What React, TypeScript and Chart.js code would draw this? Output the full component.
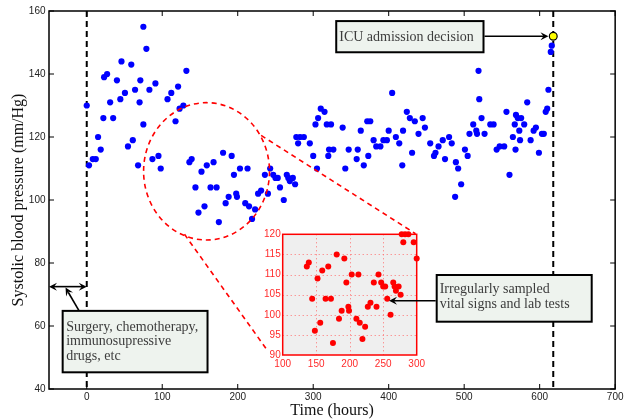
import React, { useEffect, useRef } from "react";
import { Chart, registerables } from "chart.js";
Chart.register(...registerables);

// ---- data (time in hours, systolic blood pressure in mm/Hg) ----
const times: number[] = [
  0, 3, 8, 12, 15, 18.5, 22, 23, 27, 31, 35, 40, 44.5, 46, 50.6, 54.6, 59, 61, 64, 68, 70, 71, 75, 75, 79, 83, 87, 91, 95, 98,
  107, 112, 117.6, 121, 123, 128,
  132, 136, 139, 144, 148, 152, 156, 159, 164, 168, 172, 175, 180.6, 184, 188, 192, 195, 198, 199, 203, 210, 213, 215, 219,
  223, 227, 231, 236, 240, 243, 247, 250, 253, 256, 261, 265, 267, 269, 273, 276, 277.6, 280, 282.6, 287.6, 295.5, 300,
  303, 305, 306.5, 310, 315, 318, 320, 321, 323.6, 326.7, 339, 342.5, 347, 357.6, 359, 363, 367, 371.6, 373, 375.6, 380,
  383.5, 389, 393, 397.6, 400, 404.6, 409.5, 414, 418, 419, 424, 428, 431, 434.6, 439.5, 445, 448, 455, 460, 462, 466,
  471.6, 474.6, 480, 483.5, 488, 489, 492, 496, 501, 504.6, 507, 512, 516, 517, 519, 520, 523, 527, 534.6, 539, 543, 547,
  553, 556, 560, 564.5, 567, 568, 568.6, 571, 573, 574, 575.5, 579.5, 583.5, 588, 592, 595, 599, 603, 605.5, 608, 610,
  611.6, 614.7, 616,
];
const sbp: number[] = [
  130, 111, 113, 113, 120, 116, 126, 139, 140, 131, 126, 138, 132, 144, 134, 117, 143, 119, 135, 111, 131, 138, 155, 124, 148, 135, 113, 137, 114, 110,
  132, 134, 125, 136, 129, 130,
  141, 112, 113, 104, 96, 109, 98, 111, 104, 112, 104, 93, 115, 99, 101, 114, 108, 102, 101, 110, 99, 110, 98, 94,
  97, 102, 103, 108, 102, 110, 108, 107, 107, 104, 100, 108, 107, 106, 107, 105, 120, 118, 120, 120, 118, 114,
  124, 110, 126, 129, 128, 124, 114, 116, 124, 116, 123, 110, 116, 113, 116, 122, 111, 125, 114, 125, 119,
  117, 117, 119, 119, 122, 134, 120, 118, 111, 122, 128, 126, 115, 125, 121, 126, 123, 118, 114, 115, 117,
  119, 113, 120, 118, 101, 112, 110, 105, 116, 114, 121, 124, 122, 121, 141, 132, 126, 121, 124, 124, 116, 117,
  117, 128, 108, 120, 124, 116, 127, 126, 122, 119, 126, 124, 131, 119, 122, 123, 115, 121, 121, 128, 129,
  135, 147, 149,
];
const icuTime = 618;
const icuSbp = 152;
const surgeryTime = 0;

const xTicks: number[] = [0, 100, 200, 300, 400, 500, 600, 700];
const yTicks: number[] = [40, 60, 80, 100, 120, 140, 160];
const insetXTicks: number[] = [100, 150, 200, 250, 300];
const insetYTicks: number[] = [90, 95, 100, 105, 110, 115, 120];

const SERIF = '"Liberation Serif", "DejaVu Serif", serif';
const SANS = '"Liberation Sans", Arial, sans-serif';

function arrowHead(ctx: CanvasRenderingContext2D, fx: number, fy: number, tx: number, ty: number, len = 8, half = 4) {
  const ang = Math.atan2(ty - fy, tx - fx);
  const c = Math.cos(ang), s = Math.sin(ang);
  const bx = tx - c * len, by = ty - s * len;
  const nx = tx - c * len * 0.62, ny = ty - s * len * 0.62;
  ctx.beginPath();
  ctx.moveTo(tx, ty);
  ctx.lineTo(bx - s * half, by + c * half);
  ctx.lineTo(nx, ny);
  ctx.lineTo(bx + s * half, by - c * half);
  ctx.closePath();
  ctx.fill();
}

function line(ctx: CanvasRenderingContext2D, x1: number, y1: number, x2: number, y2: number) {
  ctx.beginPath();
  ctx.moveTo(x1, y1);
  ctx.lineTo(x2, y2);
  ctx.stroke();
}

function textBox(ctx: CanvasRenderingContext2D, l: number, t: number, r: number, b: number, lines: string[], tx: number, firstBase: number, gap: number) {
  ctx.save();
  ctx.setLineDash([]);
  ctx.fillStyle = "#eef3ee";
  ctx.fillRect(l, t, r - l, b - t);
  ctx.strokeStyle = "#000";
  ctx.lineWidth = 2;
  ctx.strokeRect(l, t, r - l, b - t);
  ctx.fillStyle = "#3c3c3c";
  ctx.font = `14px ${SERIF}`;
  ctx.textBaseline = "alphabetic";
  ctx.textAlign = "left";
  lines.forEach((s, i) => ctx.fillText(s, tx, firstBase + i * gap));
  ctx.restore();
}

const mainDecor = {
  id: "mainDecor",
  beforeDatasetsDraw(chart: any) {
    const { ctx, chartArea: a, scales } = chart;
    const X = (v: number) => scales.x.getPixelForValue(v);
    ctx.save();
    ctx.strokeStyle = "#000";
    ctx.lineWidth = 2;
    ctx.setLineDash([6, 4]);
    for (const t of [surgeryTime, icuTime]) line(ctx, X(t), a.top, X(t), a.bottom);
    ctx.restore();
  },
  afterDatasetsDraw(chart: any) {
    const { ctx, chartArea: a, scales } = chart;
    const X = (v: number) => scales.x.getPixelForValue(v);
    const Y = (v: number) => scales.y.getPixelForValue(v);
    ctx.save();
    // axes box and inward ticks
    ctx.strokeStyle = "#000";
    ctx.lineWidth = 1.5;
    ctx.strokeRect(a.left, a.top, a.right - a.left, a.bottom - a.top);
    ctx.lineWidth = 1;
    for (const v of xTicks) {
      const p = X(v);
      line(ctx, p, a.bottom, p, a.bottom - 5);
      line(ctx, p, a.top, p, a.top + 5);
    }
    for (const v of yTicks) {
      const p = Y(v);
      line(ctx, a.left, p, a.left + 5, p);
      line(ctx, a.right, p, a.right - 5, p);
    }
    // red dashed zoom ellipse and connectors
    ctx.strokeStyle = "#ff0000";
    ctx.lineWidth = 1.6;
    ctx.setLineDash([5, 4]);
    const cx = X(158.7), cy = Y(109.1);
    const rx = X(158.7 + 83.4) - cx, ry = cy - Y(109.1 + 21.8);
    ctx.beginPath();
    ctx.ellipse(cx, cy, rx, ry, 0, 0, Math.PI * 2);
    ctx.stroke();
    line(ctx, X(231), Y(120.5), X(435.5), Y(89.3));
    line(ctx, X(129.5), Y(89.1), X(240), Y(52));
    ctx.setLineDash([]);

    // ICU annotation
    textBox(ctx, X(330.5), Y(156.8), X(525.6), Y(146.9), ["ICU admission decision"], X(330.5) + 3, Y(156.8) + 19.5, 0);
    ctx.strokeStyle = "#000";
    ctx.fillStyle = "#000";
    ctx.lineWidth = 1.6;
    const ax1 = X(525.6), ay = Y(icuSbp), ax2 = X(icuTime) - 4.8;
    line(ctx, ax1 + 1, ay, ax2 - 4, ay);
    arrowHead(ctx, ax1, ay, ax2, ay);

    // Surgery annotation
    const dy = Y(72.5);
    line(ctx, X(-50) + 4, dy, X(0) - 4, dy);
    arrowHead(ctx, X(0), dy, X(-50), dy);
    arrowHead(ctx, X(-50), dy, X(0), dy);
    const sx1 = X(-10.1), sy1 = Y(64.8), sx2 = X(-28.1), sy2 = Y(72.2);
    line(ctx, sx1, sy1, sx2 + (sx1 - sx2) * 0.2, sy2 + (sy1 - sy2) * 0.2);
    arrowHead(ctx, sx1, sy1, sx2, sy2);
    textBox(ctx, X(-31.9), Y(64.8), X(160), Y(45.3), ["Surgery, chemotherapy,", "immunosupressive", "drugs, etc"], X(-31.9) + 3.5, Y(64.8) + 19.8, 14.5);
    ctx.restore();
  },
};

const insetDecor = {
  id: "insetDecor",
  beforeDatasetsDraw(chart: any) {
    const { ctx, chartArea: a, scales } = chart;
    ctx.save();
    ctx.fillStyle = "#efefef";
    ctx.fillRect(a.left, a.top, a.right - a.left, a.bottom - a.top);
    ctx.strokeStyle = "#ff7070";
    ctx.lineWidth = 1;
    ctx.setLineDash([1, 3]);
    for (const v of insetXTicks.slice(1, -1)) {
      const p = Math.round(scales.x.getPixelForValue(v)) + 0.5;
      line(ctx, p, a.top, p, a.bottom);
    }
    for (const v of insetYTicks.slice(1, -1)) {
      const p = Math.round(scales.y.getPixelForValue(v)) + 0.5;
      line(ctx, a.left, p, a.right, p);
    }
    ctx.restore();
  },
  afterDatasetsDraw(chart: any) {
    const { ctx, chartArea: a, scales } = chart;
    ctx.save();
    ctx.strokeStyle = "#ff0000";
    ctx.lineWidth = 1.5;
    ctx.strokeRect(a.left, a.top, a.right - a.left, a.bottom - a.top);
    // "Irregularly sampled" annotation
    const bl = a.right + 20, bt = a.top + 40.7, br = bl + 155, bb = bt + 46.7;
    textBox(ctx, bl, bt, br, bb, ["Irregularly sampled", "vital signs and lab tests"], bl + 3, bt + 18, 14.6);
    const ty = scales.y.getPixelForValue(103.5);
    const tx = scales.x.getPixelForValue(258.7);
    ctx.strokeStyle = "#000";
    ctx.fillStyle = "#000";
    ctx.lineWidth = 1.6;
    line(ctx, bl - 1, ty, tx + 4, ty);
    arrowHead(ctx, bl, ty, tx, ty);
    ctx.restore();
  },
};

export default function App() {
  const mainRef = useRef<HTMLCanvasElement>(null);
  const insetRef = useRef<HTMLCanvasElement>(null);

  useEffect(() => {
    const pts = times.map((t, i) => ({ x: t, y: sbp[i] }));
    const insetPts = pts.filter((p) => p.x >= 100 && p.x <= 300 && p.y >= 90 && p.y <= 120);

    const main = new Chart(mainRef.current!, {
      type: "scatter",
      data: {
        datasets: [
          { data: pts, backgroundColor: "#0000ff", borderColor: "#0000ff", borderWidth: 0, pointRadius: 3.1 },
          { data: [{ x: icuTime, y: icuSbp }], backgroundColor: "#ffff00", borderColor: "#000", borderWidth: 1.2, pointRadius: 3.9 },
        ],
      },
      options: {
        responsive: false,
        animation: false,
        devicePixelRatio: 1,
        layout: { padding: { top: 11, right: 8, left: 0, bottom: 0 } },
        plugins: { legend: { display: false }, tooltip: { enabled: false } },
        scales: {
          x: {
            type: "linear",
            min: -50,
            max: 700,
            afterBuildTicks: (ax: any) => { ax.ticks = xTicks.map((v) => ({ value: v })); },
            afterFit: (ax: any) => { ax.height = 31; },
            grid: { display: false, drawTicks: false, tickLength: 0 },
            border: { display: false },
            ticks: { font: { family: SANS, size: 10 }, color: "#222", padding: 2.5, maxRotation: 0, autoSkip: false },
            title: { display: true, text: "Time (hours)", font: { family: SERIF, size: 16 }, color: "#111", padding: { top: 0, bottom: 0 } },
          },
          y: {
            type: "linear",
            min: 40,
            max: 160,
            afterBuildTicks: (ax: any) => { ax.ticks = yTicks.map((v) => ({ value: v })); },
            afterFit: (ax: any) => { ax.width = 49; },
            grid: { display: false, drawTicks: false, tickLength: 0 },
            border: { display: false },
            ticks: { font: { family: SANS, size: 10 }, color: "#222", padding: 3.5, autoSkip: false },
            title: { display: true, text: "Systolic blood pressure (mm/Hg)", font: { family: SERIF, size: 16 }, color: "#111", padding: { top: 9.5, bottom: 0 } },
          },
        },
      },
      plugins: [mainDecor],
    } as any);

    const inset = new Chart(insetRef.current!, {
      type: "scatter",
      data: {
        datasets: [
          { data: insetPts, backgroundColor: "#ff0000", borderColor: "#ff0000", borderWidth: 0, pointRadius: 3, clip: false },
        ],
      },
      options: {
        responsive: false,
        animation: false,
        devicePixelRatio: 1,
        layout: { padding: { top: 8.3, right: 183.3, left: 0, bottom: 0 } },
        plugins: { legend: { display: false }, tooltip: { enabled: false } },
        scales: {
          x: {
            type: "linear",
            min: 100,
            max: 300,
            afterBuildTicks: (ax: any) => { ax.ticks = insetXTicks.map((v) => ({ value: v })); },
            afterFit: (ax: any) => { ax.height = 16; },
            grid: { display: false, drawTicks: false, tickLength: 0 },
            border: { display: false },
            ticks: { font: { family: SANS, size: 10 }, color: "#ff2a2a", padding: 3.5, maxRotation: 0, autoSkip: false },
          },
          y: {
            type: "linear",
            min: 90,
            max: 120,
            afterBuildTicks: (ax: any) => { ax.ticks = insetYTicks.map((v) => ({ value: v })); },
            afterFit: (ax: any) => { ax.width = 20.7; },
            grid: { display: false, drawTicks: false, tickLength: 0 },
            border: { display: false },
            ticks: { font: { family: SANS, size: 10 }, color: "#ff2a2a", padding: 2, autoSkip: false },
          },
        },
      },
      plugins: [insetDecor],
    } as any);

    return () => {
      main.destroy();
      inset.destroy();
    };
  }, []);

  return (
    <div style={{ position: "fixed", left: 0, top: 0, width: 626, height: 420, background: "#fff" }}>
      <canvas ref={mainRef} width={626} height={420} style={{ position: "absolute", left: 0, top: 0, width: 626, height: 420 }} />
      <canvas ref={insetRef} width={338} height={145} style={{ position: "absolute", left: 262, top: 226, width: 338, height: 145 }} />
    </div>
  );
}
